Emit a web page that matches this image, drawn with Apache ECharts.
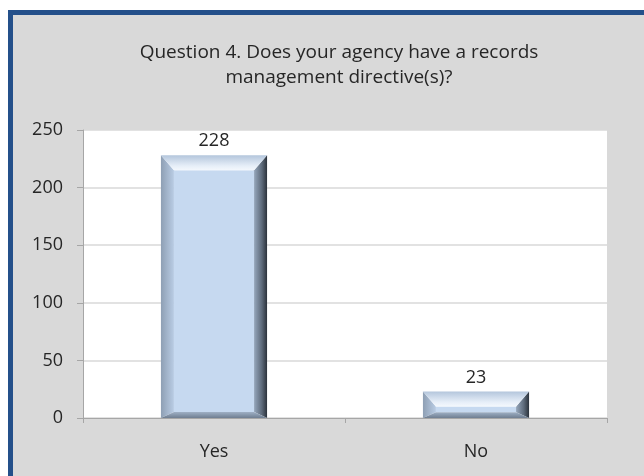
<!DOCTYPE html>
<html><head><meta charset="utf-8">
<script src="https://cdn.jsdelivr.net/npm/echarts@6/dist/echarts.min.js"></script>
<style>
html,body{margin:0;padding:0;background:#fff;overflow:hidden;width:644px;height:476px;}
#frame{position:absolute;left:8px;top:10px;width:700px;height:600px;box-sizing:border-box;border:5px solid #24508a;background:#d9d9d9;}
#chart{position:absolute;left:0;top:0;width:644px;height:476px;}
</style></head>
<body><div id="frame"></div><div id="chart"></div>
<script>
const titleText = 'Question 4. Does your agency have a records\nmanagement directive(s)?';
const categories = ['Yes', 'No'];
const values = [228, 23];
const yMin = 0, yMax = 250, yInterval = 50;

const FONT = '"Open Sans", "Noto Sans", sans-serif';
const chart = echarts.init(document.getElementById('chart'), null, {renderer: 'canvas'});

function lg(x1, y1, x2, y2, stops) {
  return new echarts.graphic.LinearGradient(x1, y1, x2, y2, stops.map((c) => ({offset: c[0], color: c[1]})));
}

function renderBevelBar(params, api) {
  const cat = api.value(0), v = api.value(1);
  const top = api.coord([cat, v]);
  const base = api.coord([cat, 0]);
  const bw = api.size([1, 0])[0] * 0.405;
  const x0 = top[0] - bw / 2, x1 = top[0] + bw / 2, yT = top[1], yB = base[1];
  const h = yB - yT;
  const b = 13;
  const bt = Math.min(15, h * 0.6);
  const bb = Math.min(6, h * 0.22);
  const fx0 = x0 + b, fx1 = x1 - b, fyT = yT + bt, fyB = yB - bb;
  return {
    type: 'group',
    children: [
      {type: 'rect', shape: {x: fx0, y: fyT, width: fx1 - fx0, height: Math.max(0, fyB - fyT)},
        style: {fill: '#c6d9f0'}},
      {type: 'polygon', shape: {points: [[x0, yT], [x0, yB], [fx0, fyB], [fx0, fyT]]},
        style: {fill: lg(0, 0, 1, 0, [[0, '#8e9fb4'], [1, '#b9cce4']])}},
      {type: 'polygon', shape: {points: [[x1, yT], [x1, yB], [fx1, fyB], [fx1, fyT]]},
        style: {fill: lg(0, 0, 1, 0, [[0, '#96a7bc'], [0.6, '#5d6a7a'], [1, '#2b323b']])}},
      {type: 'polygon', shape: {points: [[x0, yT], [x1, yT], [fx1, fyT], [fx0, fyT]]},
        style: {fill: lg(0, 0, 0, 1, [[0, '#b4c6dc'], [0.7, '#e6eef8'], [1, '#f4f8fd']])}},
      {type: 'polygon', shape: {points: [[x0, yB], [x1, yB], [fx1, fyB], [fx0, fyB]]},
        style: {fill: lg(0, 0, 0, 1, [[0, '#9fb0c5'], [1, '#6f7e91']])}},
      {type: 'text', style: {text: String(v), x: top[0], y: yT - 5, align: 'center', verticalAlign: 'bottom',
        fontSize: 18, fontFamily: FONT, fill: '#262626'}}
    ]
  };
}

chart.setOption({
  backgroundColor: 'transparent',
  animation: false,
  title: {
    text: titleText, left: 334, top: 35, textAlign: 'center',
    textStyle: {fontFamily: FONT, fontSize: 19, fontWeight: 'normal', color: '#262626', lineHeight: 25}
  },
  grid: {left: 83, right: 37, top: 130, bottom: 58, show: true, backgroundColor: '#ffffff', borderWidth: 0},
  xAxis: {
    type: 'category', data: categories,
    axisLine: {show: true, lineStyle: {color: '#a6a6a6', width: 1}},
    axisTick: {show: true, alignWithLabel: false, length: 5, lineStyle: {color: '#a6a6a6'}},
    axisLabel: {fontFamily: FONT, fontSize: 18, color: '#262626', margin: 25},
    splitLine: {show: false}
  },
  yAxis: {
    type: 'value', min: yMin, max: yMax, interval: yInterval,
    axisLine: {show: true, lineStyle: {color: '#a6a6a6', width: 1}},
    axisTick: {show: true, length: 6, lineStyle: {color: '#a6a6a6'}},
    axisLabel: {fontFamily: FONT, fontSize: 18, color: '#262626', margin: 20},
    splitLine: {show: true, lineStyle: {color: '#d9d9d9', width: 1.5}}
  },
  series: [{
    type: 'custom',
    renderItem: renderBevelBar,
    data: categories.map((c, i) => [i, values[i]]),
    encode: {x: 0, y: 1}
  }]
});
</script>
</body></html>
